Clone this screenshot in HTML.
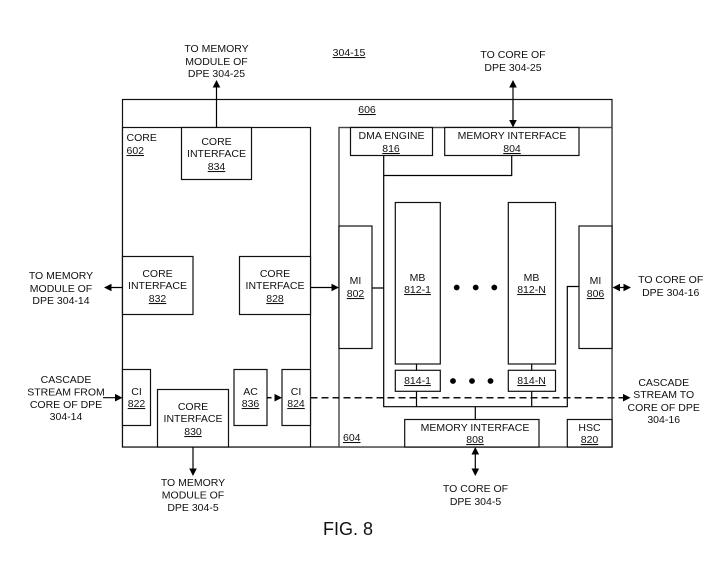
<!DOCTYPE html>
<html><head><meta charset="utf-8"><style>
html,body{margin:0;padding:0;background:#fff}
svg{display:block}
text{font-family:"Liberation Sans",sans-serif;font-size:10.5px;fill:#111;text-anchor:middle}
.u{text-decoration:underline}
.l{text-anchor:start}
rect,.w{fill:#fff;stroke:#111;stroke-width:1.2}
path.c{fill:none;stroke:#000;stroke-width:1.2}
.d{fill:none;stroke:#111;stroke-width:1.5;stroke-dasharray:7 4}
.a{fill:#000;stroke:none}
</style></head><body>
<svg xmlns="http://www.w3.org/2000/svg" width="726" height="586" viewBox="0 0 726 586">
<rect x="122.5" y="99.5" width="489.5" height="347.5"/>
<rect x="122.5" y="127.5" width="188" height="319.5"/>
<rect x="339" y="127.5" width="273" height="319.5" style="stroke:#444;stroke-width:1.4"/>
<path class="c" d="M383.7 155.5V406.7H567.3V286.5H579M383.7 175.5H511.7V155.5M372 288H383.7M416.5 364V370M416.5 391V406.7M531.7 364V370M531.7 391V406.7M475.3 406.7V419.5"/>
<rect x="181.5" y="127.5" width="70" height="52"/>
<rect x="122.5" y="256.5" width="70.5" height="58"/>
<rect x="239.5" y="256.5" width="71" height="58"/>
<rect x="122.5" y="369.5" width="28" height="56"/>
<rect x="157.5" y="389.5" width="71" height="57.5"/>
<rect x="234" y="369.5" width="33" height="56"/>
<rect x="282" y="369.5" width="28.5" height="56"/>
<rect x="339" y="226" width="33" height="122.5"/>
<rect x="350.5" y="127.5" width="82" height="28"/>
<rect x="444.7" y="127.5" width="134.3" height="28"/>
<rect x="395.3" y="202.5" width="45" height="161.5"/>
<rect x="508.3" y="202.5" width="47.2" height="161.5"/>
<rect x="579" y="226" width="33" height="122.5"/>
<rect x="395.3" y="370.3" width="45" height="21"/>
<rect x="508.3" y="370.3" width="47.2" height="21"/>
<rect x="404.7" y="419.5" width="134.3" height="27.5"/>
<rect x="567.3" y="419.5" width="44.7" height="27.5"/>
<path class="c" d="M216.5 86V127.5M108 287.5H122.5M310.5 287.5H333M103 397.7H117M193 447V470M513 86V122M475.3 453V470M618 287.5H625"/>
<path class="d" d="M310.5 397.7H625"/>
<path class="c" style="stroke-width:1.5" d="M267 397.7H271.5"/>
<path class="a" d="M216.5 80l-3.8 7.5h7.6zM104 287.5l7.5-3.8v7.6zM339 287.5l-7.5-3.8v7.6zM122.5 397.7l-7.5-3.8v7.6zM282 397.7l-7.5-3.8v7.6zM630.5 397.7l-7.5-3.8v7.6zM193 476l-3.8-7.5h7.6zM513 80l-3.8 7.5h7.6zM513 127.5l-3.8-7.5h7.6zM475.3 447l-3.8 7.5h7.6zM475.3 476l-3.8-7.5h7.6zM612.5 287.5l7.5-3.8v7.6zM631 287.5l-7.5-3.8v7.6z"/>
<g class="a"><circle cx="456.7" cy="287.5" r="2.9"/><circle cx="475.7" cy="287.5" r="2.9"/><circle cx="494.3" cy="287.5" r="2.9"/><circle cx="453" cy="381" r="2.9"/><circle cx="472" cy="381" r="2.9"/><circle cx="490.5" cy="381" r="2.9"/></g>
<text x="216.5" y="52">TO MEMORY</text><text x="216.5" y="65">MODULE OF</text><text x="216.5" y="77">DPE 304-25</text>
<text x="349" y="56" class="u">304-15</text>
<text x="367" y="113" class="u">606</text>
<text x="513" y="58">TO CORE OF</text><text x="513" y="71">DPE 304-25</text>
<text x="126.5" y="141" class="l">CORE</text><text x="126.5" y="154" class="l u">602</text>
<text x="216.5" y="145">CORE</text><text x="216.5" y="157">INTERFACE</text><text x="216.5" y="170" class="u">834</text>
<text x="391.5" y="139">DMA ENGINE</text><text x="391" y="152" class="u">816</text>
<text x="512" y="139">MEMORY INTERFACE</text><text x="512" y="152" class="u">804</text>
<text x="157.5" y="277">CORE</text><text x="157.5" y="289">INTERFACE</text><text x="157.5" y="302" class="u">832</text>
<text x="275" y="277">CORE</text><text x="275" y="289">INTERFACE</text><text x="275" y="302" class="u">828</text>
<text x="61" y="279">TO MEMORY</text><text x="61" y="292">MODULE OF</text><text x="61" y="304">DPE 304-14</text>
<text x="355.5" y="284">MI</text><text x="355.5" y="297" class="u">802</text>
<text x="417.5" y="281">MB</text><text x="417.5" y="293" class="u">812-1</text>
<text x="531.5" y="281">MB</text><text x="531.5" y="293" class="u">812-N</text>
<text x="595.5" y="284">MI</text><text x="595.5" y="297" class="u">806</text>
<text x="670.7" y="283">TO CORE OF</text><text x="670.7" y="296">DPE 304-16</text>
<text x="66" y="383">CASCADE</text><text x="66" y="395.5">STREAM FROM</text><text x="66" y="408">CORE OF DPE</text><text x="66" y="420">304-14</text>
<text x="136.5" y="395">CI</text><text x="136.5" y="407" class="u">822</text>
<text x="193" y="410">CORE</text><text x="193" y="422">INTERFACE</text><text x="193" y="435" class="u">830</text>
<text x="250.5" y="395">AC</text><text x="250.5" y="407" class="u">836</text>
<text x="296" y="395">CI</text><text x="296" y="407" class="u">824</text>
<text x="343" y="441" class="l u">604</text>
<text x="417.5" y="384" class="u">814-1</text><text x="531.5" y="384" class="u">814-N</text>
<text x="475" y="431">MEMORY INTERFACE</text><text x="475" y="443" class="u">808</text>
<text x="589.5" y="431">HSC</text><text x="589.5" y="443" class="u">820</text>
<text x="663.7" y="386">CASCADE</text><text x="663.7" y="398">STREAM TO</text><text x="663.7" y="411">CORE OF DPE</text><text x="663.7" y="423">304-16</text>
<text x="193" y="486">TO MEMORY</text><text x="193" y="498.5">MODULE OF</text><text x="193" y="511">DPE 304-5</text>
<text x="475.5" y="492">TO CORE OF</text><text x="475.5" y="505">DPE 304-5</text>
<text x="348" y="535" style="font-size:18px">FIG. 8</text>
</svg>
</body></html>
